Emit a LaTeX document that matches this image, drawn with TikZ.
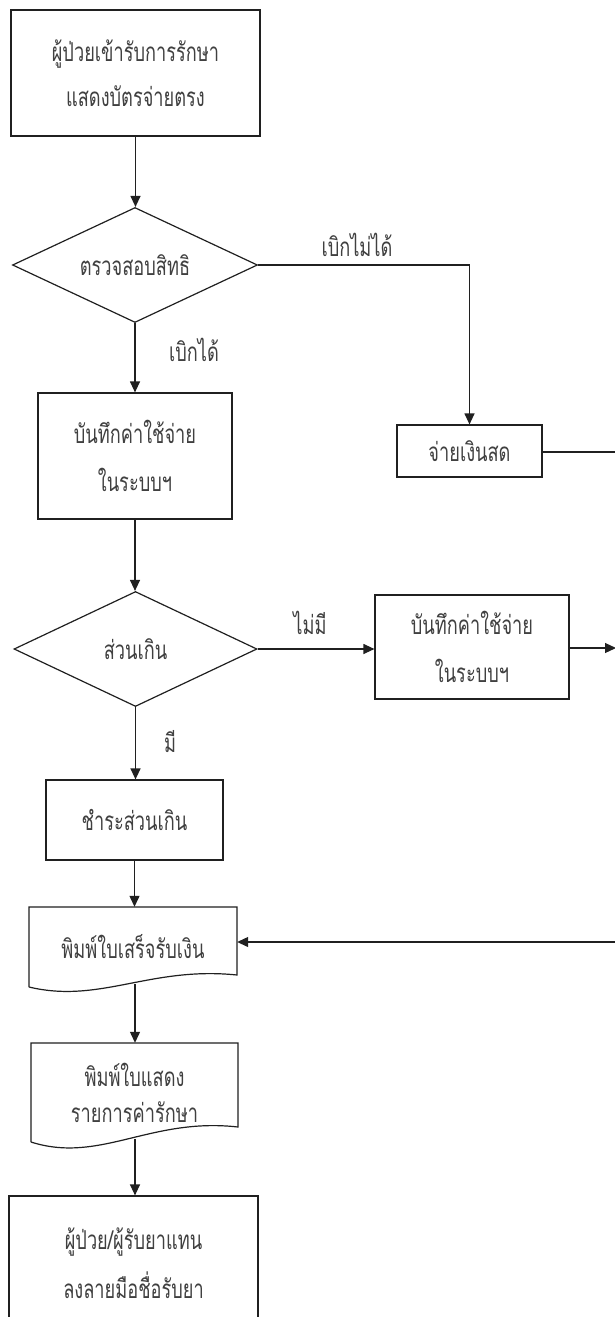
\documentclass[tikz,border=0pt]{standalone}
\usepackage{fontspec}
\newfontfamily\thaifont[Script=Thai,FakeStretch=0.7]{Loma}
\usetikzlibrary{shapes.geometric,arrows.meta}
\definecolor{linegray}{HTML}{202020}
\definecolor{txtgray}{HTML}{404040}
\begin{document}
\begin{tikzpicture}[x=1pt,y=-1pt,
  every node/.style={font=\thaifont\fontsize{26}{30}\selectfont, text=txtgray},
  ln/.style={draw=linegray, line width=1.2pt},
  arr/.style={ln, -{Triangle[length=11pt,width=10pt]}},
  box/.style={ln, rectangle, inner sep=0pt, align=center},
  dec/.style={ln, diamond, inner sep=0pt, aspect=2.1},
  doc/.style={rectangle, inner sep=0pt, align=center},
  lbl/.style={inner sep=0pt}]
\useasboundingbox (0,0) rectangle (614,1317);
\fill[white] (0,0) rectangle (614,1317);

% nodes
\node[box, minimum width=249pt, minimum height=126pt,
      font=\thaifont\fontsize{26}{45}\selectfont] (b1) at (135.5,73)
      {ผู้ป่วยเข้ารับการรักษา\\แสดงบัตรจ่ายตรง};
\node[dec, minimum width=245pt, minimum height=115pt] (d1) at (135,265) {ตรวจสอบสิทธิ};
\node[box, minimum width=194pt, minimum height=126pt,
      font=\thaifont\fontsize{26}{48}\selectfont] (b2) at (135,456)
      {บันทึกค่าใช้จ่าย\\ในระบบฯ};
\node[box, minimum width=145pt, minimum height=52pt] (cash) at (469.5,451) {จ่ายเงินสด};
\node[dec, minimum width=243pt, minimum height=115pt] (d2) at (135.5,649) {ส่วนเกิน};
\node[box, minimum width=194pt, minimum height=104pt,
      font=\thaifont\fontsize{26}{48}\selectfont] (b3) at (472,647)
      {บันทึกค่าใช้จ่าย\\ในระบบฯ};
\node[box, minimum width=177pt, minimum height=80pt] (b4) at (134.5,820) {ชำระส่วนเกิน};
\node[doc, minimum width=208pt, minimum height=80pt] (doc1) at (133,947) {พิมพ์ใบเสร็จรับเงิน};
\node[doc, minimum width=207pt, minimum height=99pt,
      font=\thaifont\fontsize{26}{36}\selectfont] (doc2) at (134.5,1092.5)
      {พิมพ์ใบแสดง\\รายการค่ารักษา};
\node[box, minimum width=249pt, minimum height=134pt,
      font=\thaifont\fontsize{26}{49}\selectfont] (b5) at (133.5,1263)
      {ผู้ป่วย/ผู้รับยาแทน\\ลงลายมือชื่อรับยา};

% document outlines
\draw[ln] (29,987) -- (29,907) -- (237,907) -- (237,975)
  .. controls (150,966) and (100,1004) .. (29,987);
\draw[ln] (31,1142) -- (31,1043) -- (238,1043) -- (238,1127)
  .. controls (150,1117) and (100,1164) .. (31,1142);
\coordinate (doc1b) at (135,984);
\coordinate (doc2b) at (135,1139);

% labels
\node[lbl] (l1) at (357,245) {เบิกไม่ได้};
\node[lbl] (l2) at (194,350) {เบิกได้};
\node[lbl] (l3) at (310,623) {ไม่มี};
\node[lbl] (l4) at (170,742) {มี};

% edge coordinates
\coordinate (e1) at (620,452);
\coordinate (e2) at (616,648);
\coordinate (e3) at (620,942);

% connectors
\draw[arr] (b1.south) -- (b1.south |- d1.north);
\draw[arr] (d1.east) -| (cash.north);
\draw[arr] (d1.south) -- (d1.south |- b2.north);
\draw[ln] (cash.east |- e1) -- (e1);
\draw[arr] (b2.south) -- (b2.south |- d2.north);
\draw[arr] (d2.east) -- (b3.west |- d2.east);
\draw[arr] (b3.east |- e2) -- (e2);
\draw[arr] (d2.south) -- (d2.south |- b4.north);
\draw[arr] (b4.south) -- (b4.south |- doc1.north);
\draw[arr] (e3) -- (doc1.east |- e3);
\draw[arr] (doc1b) -- (doc1b |- doc2.north);
\draw[arr] (doc2b) -- (doc2b |- b5.north);
\end{tikzpicture}
\end{document}
